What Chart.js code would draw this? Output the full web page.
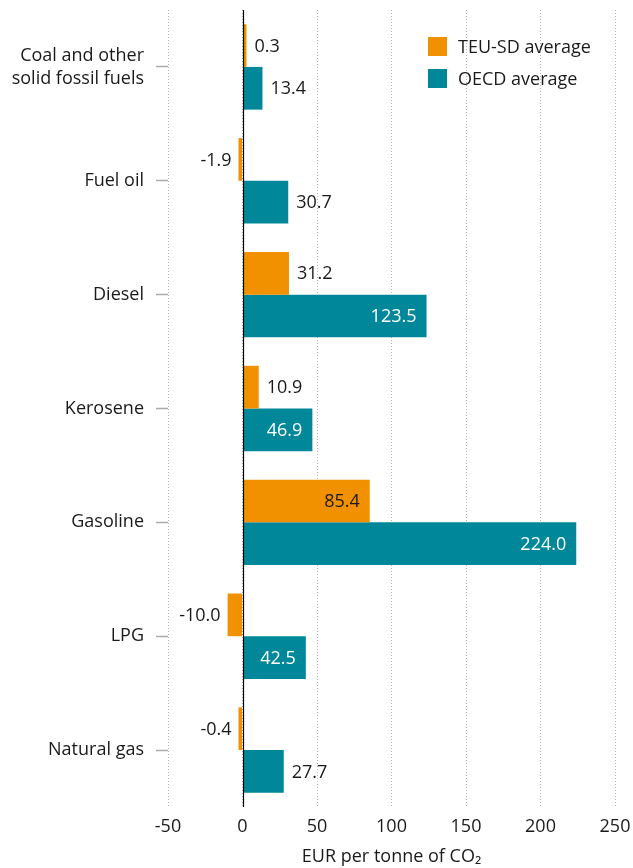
<!DOCTYPE html>
<html>
<head>
<meta charset="utf-8">
<script src="https://cdn.jsdelivr.net/npm/chart.js@4/dist/chart.umd.min.js"></script>
<style>
  html, body { margin: 0; padding: 0; background: #ffffff; }
  #wrap { width: 633px; height: 868px; }
</style>
</head>
<body>
<div id="wrap"><canvas id="c" width="633" height="868"></canvas></div>
<script>
// Implicit carbon price by fuel, EUR per tonne of CO2
const categories = [['Coal and other', 'solid fossil fuels'], 'Fuel oil', 'Diesel', 'Kerosene', 'Gasoline', 'LPG', 'Natural gas'];
const teuValues  = [0.3, -1.9, 31.2, 10.9, 85.4, -10.0, -0.4];
const oecdValues = [13.4, 30.7, 123.5, 46.9, 224.0, 42.5, 27.7];
const seriesNames = ['TEU-SD average', 'OECD average'];
const xTicks = [-50, 0, 50, 100, 150, 200, 250];

const ORANGE = '#f29100';
const TEAL = '#00879a';
const TEXT = '#1a1a1a';
const FONT = "'Open Sans', 'Noto Sans', sans-serif";
const FS = 18;

// Value labels, zero line and legend
const overlay = {
  id: 'overlay',
  afterDatasetsDraw(chart) {
    const ctx = chart.ctx;
    const area = chart.chartArea;
    const xs = chart.scales.x;
    ctx.save();
    // zero line
    const x0 = Math.round(xs.getPixelForValue(0)) + 0.5;
    ctx.strokeStyle = '#000000';
    ctx.lineWidth = 1.2;
    ctx.beginPath();
    ctx.moveTo(x0, area.top);
    ctx.lineTo(x0, area.bottom);
    ctx.stroke();

    // value labels
    ctx.font = FS + 'px ' + FONT;
    ctx.textBaseline = 'middle';
    chart.data.datasets.forEach((ds, di) => {
      const meta = chart.getDatasetMeta(di);
      meta.data.forEach((bar, i) => {
        const v = ds.data[i];
        const txt = v.toFixed(1);
        const y = bar.y + 1;
        if (v < 0) {
          ctx.textAlign = 'right';
          ctx.fillStyle = TEXT;
          ctx.fillText(txt, bar.x - 7, y);
        } else if (v > 40) {
          ctx.textAlign = 'right';
          ctx.fillStyle = di === 1 ? '#ffffff' : TEXT;
          ctx.fillText(txt, bar.x - 10, y);
        } else {
          ctx.textAlign = 'left';
          ctx.fillStyle = TEXT;
          ctx.fillText(txt, bar.x + 8, y);
        }
      });
    });

    // legend
    const lx = 428, ly = 37, box = 19, gap = 32;
    chart.data.datasets.forEach((ds, di) => {
      const y = ly + di * gap;
      ctx.fillStyle = ds.backgroundColor;
      ctx.fillRect(lx, y, box, box);
      ctx.fillStyle = TEXT;
      ctx.textAlign = 'left';
      ctx.textBaseline = 'middle';
      ctx.fillText(ds.label, lx + box + 11, y + box / 2 + 1);
    });
    ctx.restore();
  }
};

new Chart(document.getElementById('c'), {
  type: 'bar',
  data: {
    labels: categories,
    datasets: [
      { label: seriesNames[0], data: teuValues, backgroundColor: ORANGE },
      { label: seriesNames[1], data: oecdValues, backgroundColor: TEAL }
    ]
  },
  options: {
    indexAxis: 'y',
    responsive: false,
    animation: false,
    devicePixelRatio: 1,
    layout: { padding: { top: 10, right: 18, left: 0, bottom: 0 } },
    datasets: { bar: { categoryPercentage: 0.75, barPercentage: 1.0, borderWidth: 0, minBarLength: 4 } },
    plugins: { legend: { display: false }, tooltip: { enabled: false } },
    scales: {
      x: {
        type: 'linear',
        min: -50,
        max: 250,
        afterBuildTicks(scale) { scale.ticks = xTicks.map(v => ({ value: v })); },
        grid: { color: '#b5b5b5', lineWidth: 1, drawTicks: false },
        border: { display: false, dash: [1, 2] },
        ticks: { color: TEXT, font: { family: FONT, size: FS }, padding: 9 },
        title: {
          display: true,
          text: 'EUR per tonne of CO\u2082',
          color: TEXT,
          font: { family: FONT, size: FS },
          padding: { top: 2, bottom: 0 }
        },
        afterFit(scale) { scale.height = 61; scale.paddingLeft = 0; scale.paddingRight = 0; }
      },
      y: {
        offset: true,
        grid: {
          offset: false,
          drawOnChartArea: false,
          drawTicks: true,
          tickLength: 12,
          tickColor: '#ababab',
          tickWidth: 1.5
        },
        border: { display: false },
        ticks: { color: TEXT, font: { family: FONT, size: FS, lineHeight: 1.28 }, padding: 12 },
        afterFit(scale) { scale.width = 168; scale.paddingTop = 0; scale.paddingBottom = 0; }
      }
    }
  },
  plugins: [overlay]
});
</script>
</body>
</html>
